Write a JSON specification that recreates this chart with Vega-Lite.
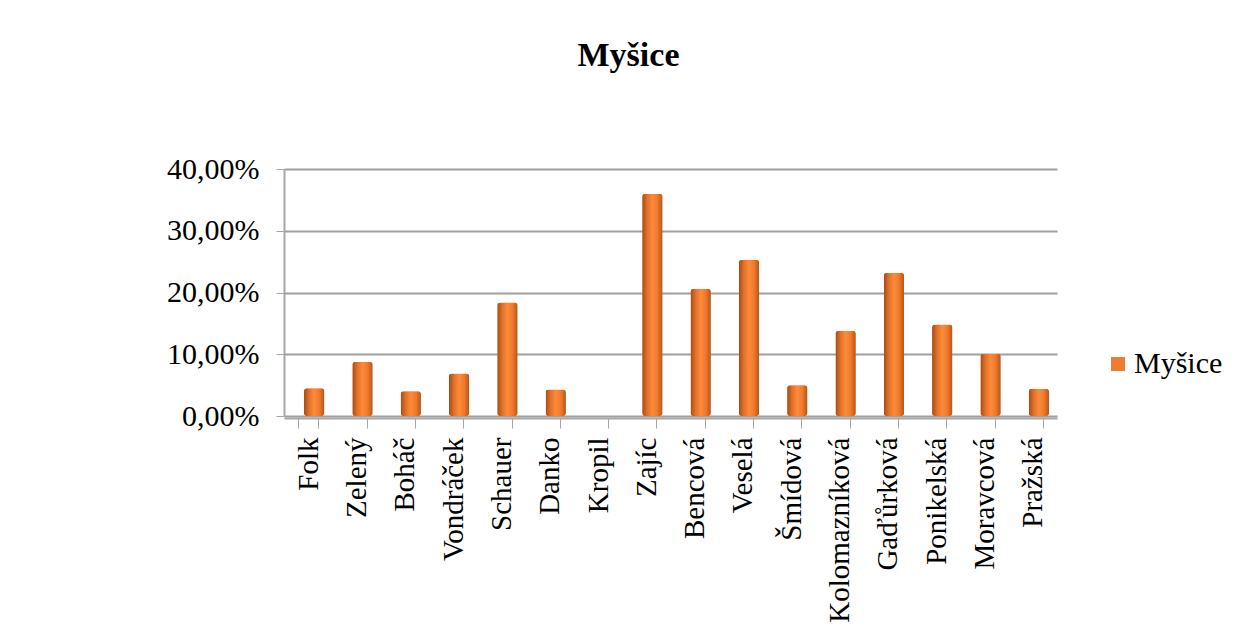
{
  "$schema": "https://vega.github.io/schema/vega-lite/v6.json",
  "autosize": "none",
  "width": 773,
  "height": 247,
  "padding": {"left": 284, "top": 169, "right": 180, "bottom": 226},
  "background": "white",
  "config": {
    "locale": {"number": {"decimal": ",", "thousands": " ", "grouping": [3], "currency": ["", " Kč"]}},
    "view": {"stroke": null},
    "font": "Liberation Serif"
  },
  "title": {
    "text": "Myšice",
    "font": "Liberation Serif",
    "fontSize": 34,
    "fontWeight": "bold",
    "color": "#000000",
    "anchor": "middle",
    "dx": -42,
    "offset": 81
  },
  "data": {
    "values": [
      {"jmeno": "Folk", "podil": 0.045},
      {"jmeno": "Zelený", "podil": 0.088},
      {"jmeno": "Boháč", "podil": 0.040},
      {"jmeno": "Vondráček", "podil": 0.069},
      {"jmeno": "Schauer", "podil": 0.184},
      {"jmeno": "Danko", "podil": 0.043},
      {"jmeno": "Kropil", "podil": 0.0},
      {"jmeno": "Zajíc", "podil": 0.360},
      {"jmeno": "Bencová", "podil": 0.206},
      {"jmeno": "Veselá", "podil": 0.253},
      {"jmeno": "Šmídová", "podil": 0.050},
      {"jmeno": "Kolomazníková", "podil": 0.138},
      {"jmeno": "Gaďůrková", "podil": 0.232},
      {"jmeno": "Ponikelská", "podil": 0.148},
      {"jmeno": "Moravcová", "podil": 0.101},
      {"jmeno": "Pražská", "podil": 0.044}
    ]
  },
  "encoding": {
    "x": {
      "field": "jmeno",
      "type": "nominal",
      "sort": null,
      "scale": {"paddingInner": 0.58, "paddingOuter": 0.29},
      "axis": {
        "title": null,
        "labelAngle": -90,
        "labelAlign": "right",
        "labelBaseline": "middle",
        "labelFont": "Liberation Serif",
        "labelFontSize": 29,
        "labelColor": "#000000",
        "labelPadding": 9,
        "labelLimit": 400,
        "labelOverlap": false,
        "tickBand": "extent",
        "tickSize": 10,
        "tickColor": "#A6A6A6",
        "domainColor": "#A6A6A6",
        "domainWidth": 2,
        "offset": 2
      }
    },
    "y": {
      "field": "podil",
      "type": "quantitative",
      "scale": {"domain": [0, 0.4]},
      "axis": {
        "title": null,
        "format": ".2%",
        "values": [0, 0.1, 0.2, 0.3, 0.4],
        "labelOverlap": false,
        "labelFont": "Liberation Serif",
        "labelFontSize": 30,
        "labelColor": "#000000",
        "labelPadding": 17,
        "tickSize": 8,
        "tickColor": "#A6A6A6",
        "domainColor": "#A6A6A6",
        "domainWidth": 2,
        "gridColor": "#A0A0A0",
        "gridWidth": 2
      }
    }
  },
  "layer": [
    {
      "mark": {"type": "bar", "cornerRadius": 3, "xOffset": 6},
      "encoding": {
        "color": {
          "datum": "Myšice",
          "type": "nominal",
          "scale": {"range": ["#ED7D31"]},
          "legend": {
            "title": null,
            "orient": "none",
            "legendX": 819,
            "legendY": 180,
            "symbolType": "square",
            "symbolSize": 196,
            "symbolStrokeWidth": 0,
            "labelFont": "Liberation Serif",
            "labelFontSize": 30,
            "labelColor": "#000000",
            "labelOffset": 1
          }
        }
      }
    },
    {
      "mark": {
        "type": "bar",
        "cornerRadius": 3,
        "xOffset": 6,
        "fill": {
          "gradient": "linear",
          "x1": 0, "x2": 1, "y1": 0, "y2": 0,
          "stops": [
            {"offset": 0, "color": "#A84A14"},
            {"offset": 0.25, "color": "#E0722A"},
            {"offset": 0.5, "color": "#FF8A3A"},
            {"offset": 0.75, "color": "#F07A2C"},
            {"offset": 1, "color": "#B4561C"}
          ]
        }
      }
    }
  ]
}
